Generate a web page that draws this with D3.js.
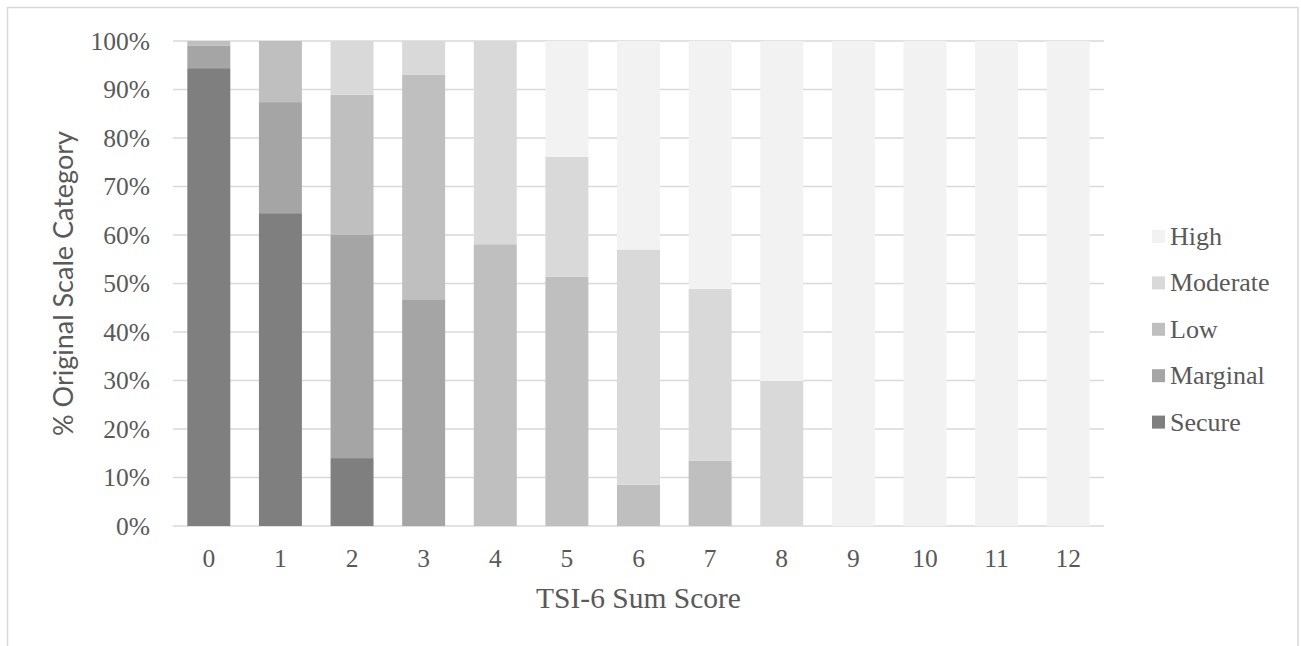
<!DOCTYPE html>
<html>
<head>
<meta charset="utf-8">
<script src="https://cdn.jsdelivr.net/npm/d3@7"></script>
<style>
  html, body { margin: 0; padding: 0; background: #ffffff; }
  svg { display: block; }
</style>
</head>
<body>
<svg id="chart" width="1301" height="646"></svg>
<script>
// ---- data ----
const categories = ["0","1","2","3","4","5","6","7","8","9","10","11","12"];
const seriesNames = ["Secure","Marginal","Low","Moderate","High"];
const secure   = [94.4, 64.5, 14.0, 0,    0,    0,    0,    0,    0,    0,   0,   0,   0];
const marginal = [4.6,  22.9, 46.0, 46.6, 0,    0,    0,    0,    0,    0,   0,   0,   0];
const low      = [1.0,  12.6, 28.9, 46.5, 58.1, 51.4, 8.5,  13.5, 0,    0,   0,   0,   0];
const moderate = [0,    0,    11.1, 6.9,  41.9, 24.7, 48.5, 35.4, 29.9, 0,   0,   0,   0];
const high     = [0,    0,    0,    0,    0,    23.9, 43.0, 51.1, 70.1, 100, 100, 100, 100];
const yTicks = [0,10,20,30,40,50,60,70,80,90,100];
const colors = ["#7f7f7f","#a5a5a5","#bfbfbf","#d9d9d9","#f2f2f2"];
const xTitle = "TSI-6 Sum Score";
const yTitle = "% Original Scale Category";

const values = [secure, marginal, low, moderate, high];
const table = categories.map((c, i) => {
  const row = { cat: c };
  seriesNames.forEach((s, k) => row[s] = values[k][i]);
  return row;
});

const svg = d3.select("#chart");
const W = 1301, H = 646;
const plot = { left: 173, right: 1104, top: 41, bottom: 526 };
const serif = "'Liberation Serif', 'Times New Roman', serif";
const textColor = "#595959";

// frame
svg.append("rect").attr("x", 7.5).attr("y", 7.5).attr("width", 1290.5).attr("height", H + 20)
  .attr("fill", "#ffffff").attr("stroke", "#d9d9d9").attr("stroke-width", 1.5);

const x = d3.scaleBand().domain(categories).range([plot.left, plot.right])
  .paddingInner(0.4).paddingOuter(0.2);
const y = d3.scaleLinear().domain([0, 100]).range([plot.bottom, plot.top]);

// gridlines
svg.append("g").selectAll("line").data(yTicks).join("line")
  .attr("x1", plot.left).attr("x2", plot.right)
  .attr("y1", d => y(d)).attr("y2", d => y(d))
  .attr("stroke", "#d9d9d9").attr("stroke-width", 1.5);

// stacked bars
const stacked = d3.stack().keys(seriesNames)(table);
svg.append("g").selectAll("g").data(stacked).join("g")
  .attr("fill", (d, i) => colors[i])
  .selectAll("rect").data(d => d).join("rect")
  .attr("x", d => x(d.data.cat))
  .attr("width", x.bandwidth())
  .attr("y", d => y(d[1]))
  .attr("height", d => Math.max(0, y(d[0]) - y(d[1])));

// y axis
const yAxis = d3.axisLeft(y).tickValues(yTicks).tickFormat(d => d + "%").tickSize(0).tickPadding(0);
const gy = svg.append("g").attr("transform", `translate(150,0)`).call(yAxis);
gy.select(".domain").remove();
gy.selectAll("text").attr("font-family", serif)
  .attr("font-size", 25.5).attr("fill", textColor).attr("dy", "0.33em");

// x axis
const xAxis = d3.axisBottom(x).tickSize(0).tickPadding(0);
const gx = svg.append("g").attr("transform", `translate(0,567)`).call(xAxis);
gx.select(".domain").remove();
gx.selectAll("text").attr("font-family", serif)
  .attr("font-size", 25.5).attr("fill", textColor).attr("dy", 0);

// axis titles
svg.append("text").attr("x", (plot.left + plot.right) / 2).attr("y", 608)
  .attr("text-anchor", "middle")
  .attr("font-family", serif)
  .attr("font-size", 29.5).attr("fill", textColor).text(xTitle);

svg.append("text").attr("transform", `translate(73,${(plot.top + plot.bottom) / 2}) rotate(-90)`)
  .attr("text-anchor", "middle")
  .attr("font-family", "Lato, 'Open Sans', sans-serif")
  .attr("font-size", 27).attr("fill", textColor).text(yTitle);

// legend (reverse order: High at top)
const legendOrder = seriesNames.map((s, i) => ({ name: s, color: colors[i] })).reverse();
const lg = svg.append("g").selectAll("g").data(legendOrder).join("g")
  .attr("transform", (d, i) => `translate(1152,${236.5 + i * 46.4})`);
lg.append("rect").attr("x", 0).attr("y", -6.5).attr("width", 13).attr("height", 13)
  .attr("fill", d => d.color);
lg.append("text").attr("x", 18).attr("dy", "0.33em")
  .attr("font-family", serif)
  .attr("font-size", 26).attr("fill", textColor).text(d => d.name);
</script>
</body>
</html>
